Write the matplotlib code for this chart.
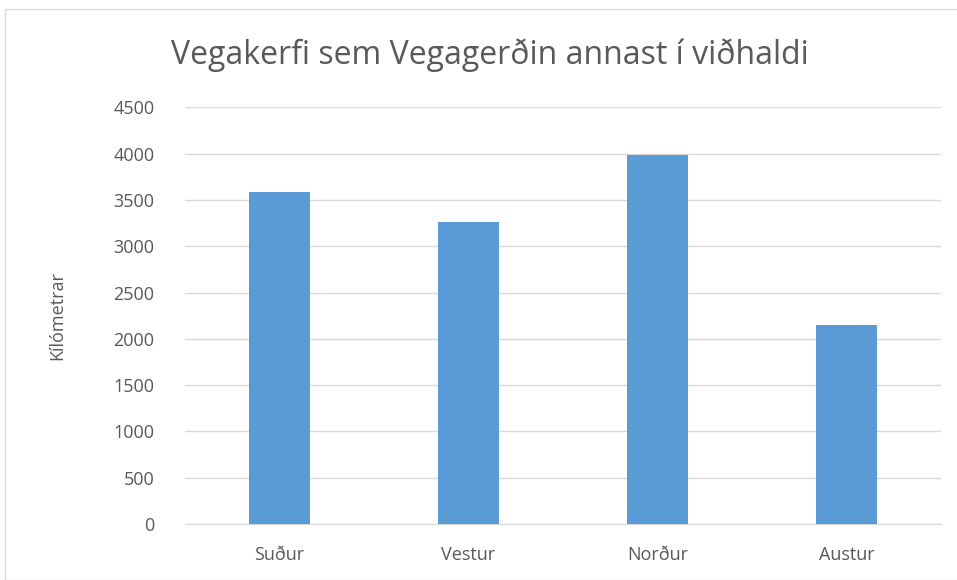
import matplotlib.pyplot as plt
from matplotlib.patches import Rectangle

# data
regions = ['Suður', 'Vestur', 'Norður', 'Austur']
km = [3590, 3260, 3990, 2150]
yticks = [0, 500, 1000, 1500, 2000, 2500, 3000, 3500, 4000, 4500]

plt.rcParams['font.family'] = ['Open Sans', 'DejaVu Sans']
txt = '#595959'

fig = plt.figure(figsize=(9.57, 5.8), dpi=100)
ax = fig.add_axes([185/957, 1 - 524/580, (941 - 185)/957, (524 - 107.3)/580])

# outer chart border
fig.patches.append(Rectangle((5/957, 0), 1, 1 - 9/580, transform=fig.transFigure,
                             fill=False, edgecolor='#D9D9D9', linewidth=1))

ax.bar(range(len(regions)), km, width=0.32, color='#5B9BD5', zorder=3)

ax.set_xlim(-0.5, 3.5)
ax.set_ylim(0, 4500)
ax.set_yticks(yticks)
ax.set_yticklabels([str(v) for v in yticks])
ax.set_xticks(range(len(regions)))
ax.set_xticklabels(regions)
ax.grid(axis='y', color='#D9D9D9', linewidth=1, zorder=0)

for s in ['top', 'right', 'left']:
    ax.spines[s].set_visible(False)
ax.spines['bottom'].set_color('#D9D9D9')
ax.tick_params(axis='y', length=0, pad=22, labelsize=13, labelcolor=txt)
ax.tick_params(axis='x', length=0, pad=16, labelsize=13, labelcolor=txt)

ax.set_ylabel('Kílómetrar', fontsize=13, color=txt, labelpad=34)
fig.text(490/957, 1 - 55/580, 'Vegakerfi sem Vegagerðin annast í viðhaldi',
         ha='center', va='center', fontsize=23, color=txt)

fig.savefig('out.png', dpi=100)
